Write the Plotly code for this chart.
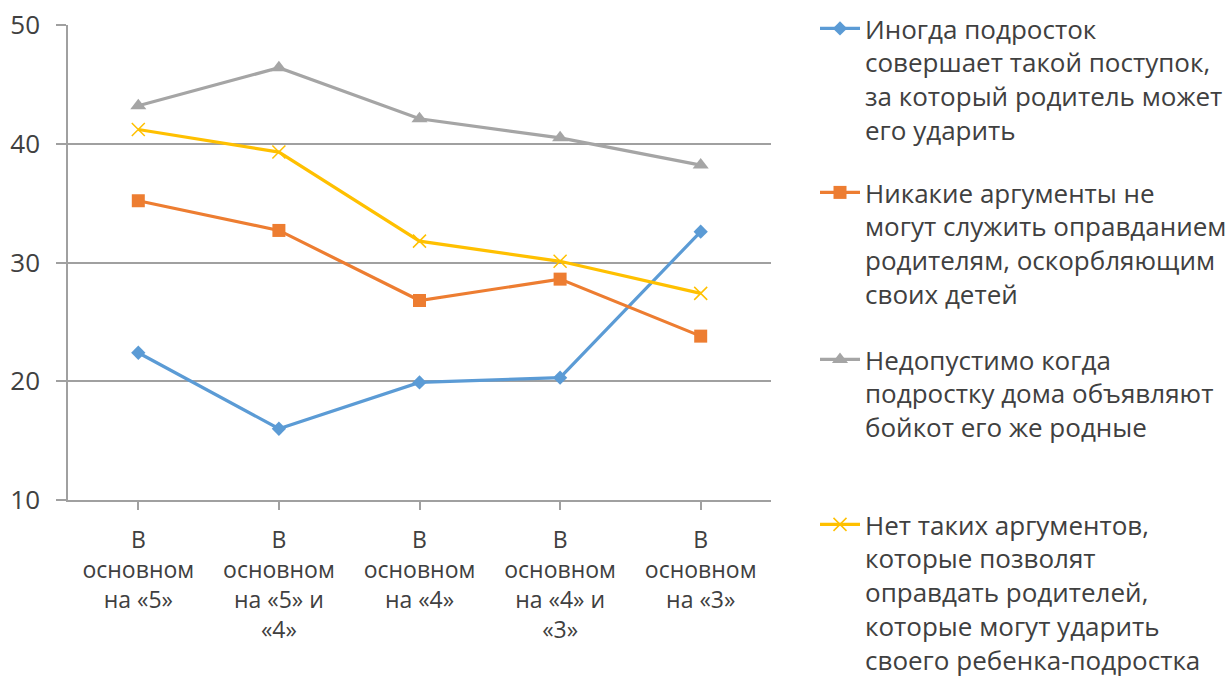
import plotly.graph_objects as go

categories = ["В<br>основном<br>на «5»", "В<br>основном<br>на «5» и<br>«4»", "В<br>основном<br>на «4»",
              "В<br>основном<br>на «4» и<br>«3»", "В<br>основном<br>на «3»"]

names = [
    "Иногда подросток<br>совершает такой поступок,<br>за который родитель может<br>его ударить",
    "Никакие аргументы не<br>могут служить оправданием<br>родителям, оскорбляющим<br>своих детей",
    "Недопустимо когда<br>подростку дома объявляют<br>бойкот его же родные",
    "Нет таких аргументов,<br>которые позволят<br>оправдать родителей,<br>которые могут ударить<br>своего ребенка-подростка",
]

s_blue = [22.4, 16.0, 19.9, 20.3, 32.6]
s_orange = [35.2, 32.7, 26.8, 28.6, 23.8]
s_gray = [43.2, 46.4, 42.1, 40.5, 38.2]
s_yellow = [41.2, 39.3, 31.8, 30.1, 27.4]

y_ticks = [10, 20, 30, 40, 50]

series = [s_blue, s_orange, s_gray, s_yellow]
colors = ["#5B9BD5", "#ED7D31", "#A5A5A5", "#FFC000"]
symbols = ["diamond", "square", "triangle-up", "x-thin-open"]
msizes = [11, 13, 14, 13]

FONT = "Open Sans"
TXT = "#404040"

fig = go.Figure()
legend_ids = ["legend", "legend2", "legend3", "legend4"]
for i, s in enumerate(series):
    mk = dict(symbol=symbols[i], size=msizes[i], color=colors[i])
    if symbols[i] == "x-thin-open":
        mk["line"] = dict(color=colors[i], width=1.5)
    fig.add_trace(go.Scatter(
        x=list(range(len(categories))), y=s, mode="lines+markers", name=names[i],
        line=dict(color=colors[i], width=3.2), marker=mk, legend=legend_ids[i],
        showlegend=True,
    ))

W, H = 1231, 682
legend_tops = [5, 169, 336, 501]
leg_common = dict(font=dict(family=FONT, size=26, color=TXT), bgcolor="rgba(0,0,0,0)",
                  xref="container", yref="container", visible=True,
                  xanchor="left", yanchor="top", valign="top", itemwidth=40)
lx = 815 / W
fig.update_layout(
    showlegend=True,
    legend=dict(x=lx, y=1 - legend_tops[0] / H, **leg_common),
    legend2=dict(x=lx, y=1 - legend_tops[1] / H, **leg_common),
    legend3=dict(x=lx, y=1 - legend_tops[2] / H, **leg_common),
    legend4=dict(x=lx, y=1 - legend_tops[3] / H, **leg_common),
)

fig.update_layout(
    width=W, height=H,
    margin=dict(l=68, r=460, t=25, b=182, autoexpand=False),
    paper_bgcolor="white", plot_bgcolor="white",
    font=dict(family=FONT, size=22, color=TXT),
    xaxis=dict(
        tickmode="array", tickvals=list(range(len(categories))), ticktext=categories,
        range=[-0.5, 4.5], showgrid=False, showline=True, linecolor="#A0A0A0", linewidth=1.5,
        ticks="outside", ticklen=8, tickcolor="#A0A0A0", tickwidth=1.5, ticklabelstandoff=11,
        tickfont=dict(family=FONT, size=23, color=TXT), zeroline=False,
    ),
    yaxis=dict(
        range=[10, 50], tickvals=y_ticks, showgrid=True, gridcolor="#A0A0A0", gridwidth=1.5,
        showline=True, linecolor="#A0A0A0", linewidth=1.5,
        ticks="outside", ticklen=10, tickcolor="#A0A0A0", tickwidth=1.5, ticklabelstandoff=11,
        tickfont=dict(family=FONT, size=26, color=TXT), zeroline=False,
    ),
)

fig.write_html("out.html", config={"displayModeBar": False},
               post_script="document.body.style.margin='0';")
